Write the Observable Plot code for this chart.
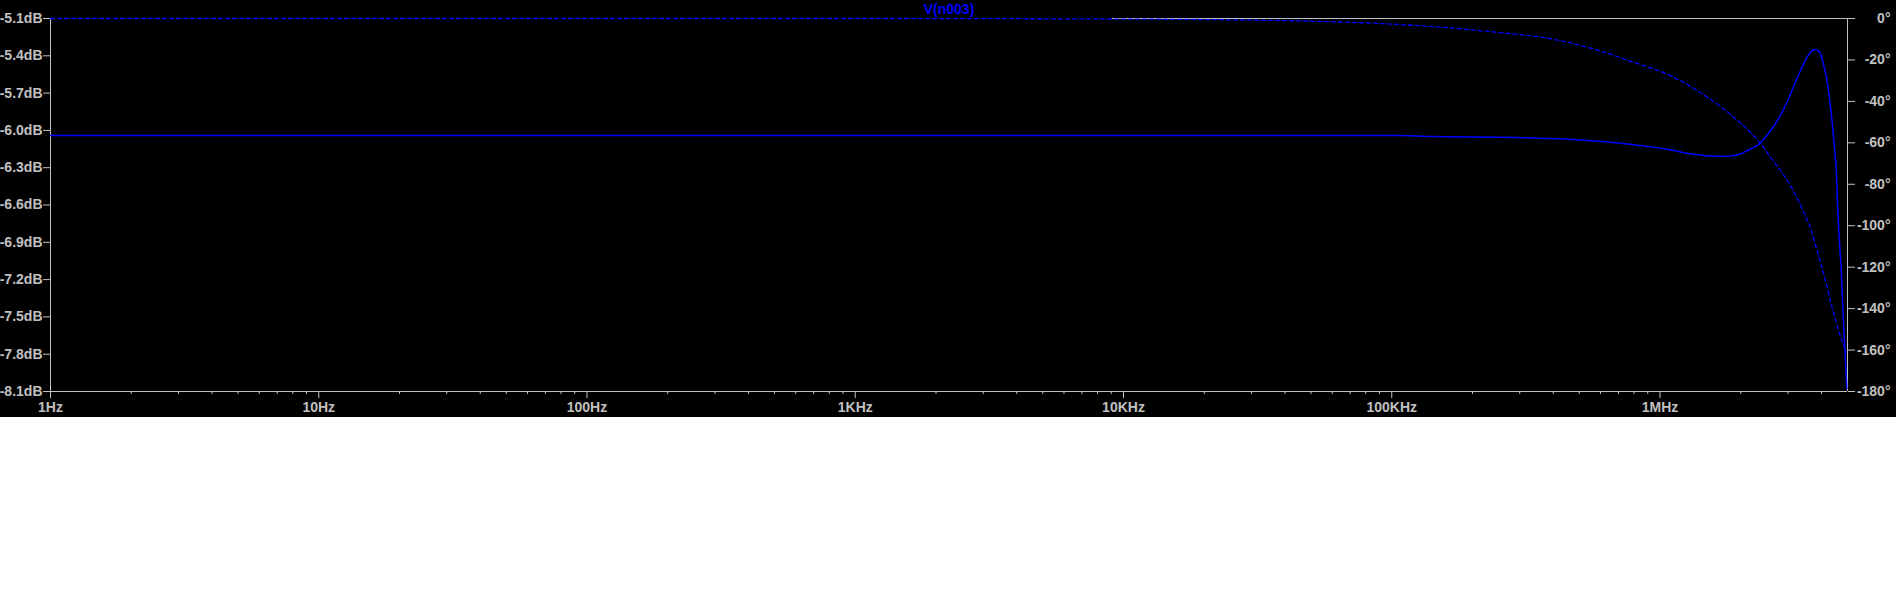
<!DOCTYPE html>
<html><head><meta charset="utf-8">
<script src="https://cdn.jsdelivr.net/npm/d3@7"></script>
<script src="https://cdn.jsdelivr.net/npm/@observablehq/plot@0.6"></script>
<style>html,body{margin:0;padding:0;background:#fff;} #chart svg{display:block}</style>
</head><body><div id="chart"></div>
<script>
const title = "V(n003)";
const xTickValues = [1, 10, 100, 1e3, 1e4, 1e5, 1e6];
const xTickLabels = ["1Hz", "10Hz", "100Hz", "1KHz", "10KHz", "100KHz", "1MHz"];
const dbTickValues = [-5.1, -5.4, -5.7, -6.0, -6.3, -6.6, -6.9, -7.2, -7.5, -7.8, -8.1];
const dbTickLabels = ["-5.1dB", "-5.4dB", "-5.7dB", "-6.0dB", "-6.3dB", "-6.6dB", "-6.9dB", "-7.2dB", "-7.5dB", "-7.8dB", "-8.1dB"];
const phaseTickValues = [0, -20, -40, -60, -80, -100, -120, -140, -160, -180];
const phaseTickLabels = ["0°", "-20°", "-40°", "-60°", "-80°", "-100°", "-120°", "-140°", "-160°", "-180°"];

const magFreq = [1, 1.07e5, 1.47e5, 2.92e5, 4.74e5, 6.68e5, 8.40e5, 1.056e6, 1.327e6, 1.622e6, 1.767e6, 1.981e6, 2.096e6, 2.350e6, 2.560e6, 2.790e6, 2.997e6, 3.22e6, 3.51e6, 3.61e6, 3.80e6, 3.93e6, 4.05e6, 4.23e6, 4.35e6, 4.48e6, 4.54e6, 4.60e6, 4.67e6, 4.74e6, 4.80e6, 4.87e6, 4.94e6, 4.97e6];
const magDb = [-6.042, -6.042, -6.050, -6.058, -6.074, -6.098, -6.122, -6.150, -6.192, -6.208, -6.208, -6.192, -6.166, -6.106, -6.013, -5.892, -5.758, -5.597, -5.422, -5.382, -5.350, -5.369, -5.449, -5.651, -5.865, -6.160, -6.321, -6.643, -6.909, -7.127, -7.419, -7.688, -7.954, -8.075];

const phaseFreq = [1, 1e3, 9.1e3, 2.79e4, 4.66e4, 6.40e4, 8.28e4, 1.07e5, 2.53e5, 3.88e5, 5.01e5, 6.31e5, 7.91e5, 9.95e5, 1.214e6, 1.406e6, 1.669e6, 1.817e6, 2.350e6, 2.634e6, 3.085e6, 3.408e6, 3.661e6, 3.91e6, 4.17e6, 4.41e6, 4.67e6, 4.87e6, 4.95e6];
const phaseDeg = [0, 0, -0.25, -0.72, -1.2, -1.7, -2.2, -2.9, -6.8, -9.7, -12.9, -16.6, -21.0, -25.3, -30.6, -35.6, -42.2, -46.0, -59.8, -68.4, -81.3, -92.6, -102.2, -115.1, -128.0, -140.9, -152.1, -158.6, -161];

const gray = "#c0c0c0";
const blue = "#0000ff";
const dbTop = -5.1, dbBottom = -8.1;
const phaseToDb = d => dbTop + d * ((dbTop - dbBottom) / 180);

const magRows = magFreq.map((f, i) => ({f, db: magDb[i]}));
const phaseRows = phaseFreq.map((f, i) => ({f, db: phaseToDb(phaseDeg[i])}));
const phasePos = phaseTickValues.map(phaseToDb);
const xLab = new Map(xTickValues.map((v, i) => [v, xTickLabels[i]]));
const dbLab = new Map(dbTickValues.map((v, i) => [v, dbTickLabels[i]]));
const phLab = new Map(phasePos.map((v, i) => [v, phaseTickLabels[i]]));
const minorTicks = [];
for (let e = 0; e <= 6; e++) for (let m = 2; m <= 9; m++) { const v = m * 10 ** e; if (v < 5e6) minorTicks.push(v); }
const borderStart = phaseFreq.find((f, i) => phaseDeg[i] < 0);

const chart = Plot.plot({
  width: 1896, height: 417,
  marginTop: 18, marginBottom: 26, marginLeft: 50, marginRight: 49,
  x: {type: "log", domain: [1, 5e6]},
  y: {domain: [dbBottom, dbTop]},
  style: {background: "#000", color: gray, fontFamily: "'Liberation Sans', Arial, sans-serif", fontSize: "14px", fontWeight: "bold", overflow: "visible"},
  marks: [
    Plot.axisX(minorTicks, {tickSize: 3, fill: "none", stroke: gray, label: null}),
    Plot.axisX(xTickValues, {tickSize: 7, tickPadding: 4, stroke: gray, fill: gray, tickFormat: d => xLab.get(d), label: null}),
    Plot.axisY(dbTickValues, {anchor: "left", tickSize: 7, tickPadding: 1, stroke: gray, fill: gray, tickFormat: d => dbLab.get(d), label: null}),
    Plot.axisY(phasePos, {anchor: "right", tickSize: 7, fill: "none", stroke: gray, label: null}),
    Plot.axisY(phasePos, {anchor: "right", tickSize: 0, tickPadding: 0, textAnchor: "end", dx: 43, fill: gray, tickFormat: d => phLab.get(d), label: null}),
    Plot.ruleX([1], {stroke: gray}),
    Plot.ruleX([5e6], {stroke: gray}),
    Plot.ruleY([dbBottom], {stroke: gray}),
    Plot.ruleY([{y: dbTop, x1: borderStart, x2: 5e6}], {y: "y", x1: "x1", x2: "x2", stroke: gray}),
    Plot.line(phaseRows, {x: "f", y: "db", stroke: blue, strokeWidth: 1.3, strokeDasharray: "4,3", curve: "monotone-x"}),
    Plot.line(magRows, {x: "f", y: "db", stroke: blue, strokeWidth: 1.5, curve: "monotone-x"}),
    Plot.text([title], {frameAnchor: "top", dy: -9, lineAnchor: "middle", fill: blue, fontSize: 14, fontWeight: "bold"})
  ]
});
document.getElementById("chart").appendChild(chart);
</script>
</body></html>
